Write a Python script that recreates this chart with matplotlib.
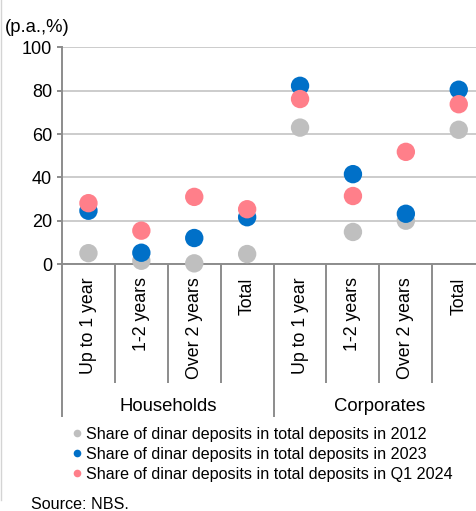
import matplotlib
matplotlib.use("Agg")
import matplotlib.pyplot as plt
from matplotlib.lines import Line2D
import numpy as np

plt.rcParams['font.family'] = ['Liberation Sans', 'DejaVu Sans']

# Maturity buckets per sector
categories = ["Up to 1 year", "1-2 years", "Over 2 years", "Total",
              "Up to 1 year", "1-2 years", "Over 2 years", "Total"]
groups = ["Households", "Corporates"]

share_2012 = [5.0, 1.5, 0.3, 4.6, 63.0, 14.8, 20.0, 62.0]
share_2023 = [24.6, 5.2, 12.0, 21.6, 82.3, 41.5, 23.2, 80.5]
share_q1_2024 = [28.1, 15.4, 31.0, 25.3, 76.2, 31.4, 51.8, 73.8]

series_labels = ["Share of dinar deposits in total deposits in 2012",
                 "Share of dinar deposits in total deposits in 2023",
                 "Share of dinar deposits in total deposits in Q1 2024"]
colors = ["#BFBFBF", "#0070C8", "#FF7F8A"]

yticks = [0, 20, 40, 60, 80, 100]

W, H, DPI = 477, 511, 100
fig = plt.figure(figsize=(W / DPI, H / DPI), dpi=DPI)

# axes in pixel geometry (axes runs slightly past the right edge)
x0, y_top, y_zero, cat_w = 62, 47.5, 264, 52.9
n = len(categories)
ax = fig.add_axes([x0 / W, (H - y_zero) / H, n * cat_w / W, (y_zero - y_top) / H])

grid_c = "#BEBEBE"
axis_c = "#8C8C8C"

xs = np.arange(n) + 0.5
for vals, c, lab in zip([share_2012, share_2023, share_q1_2024], colors, series_labels):
    ax.scatter(xs, vals, s=175, color=c, edgecolors="none", zorder=3, label=lab,
               clip_on=False)

ax.set_xlim(0, n)
ax.set_ylim(0, 100)
ax.set_yticks(yticks)
ax.set_yticklabels([str(v) for v in yticks], fontsize=13)
ax.yaxis.grid(True, color=grid_c, linewidth=1.1, zorder=0)
ax.set_axisbelow(True)
ax.tick_params(axis="y", length=3.6, width=1.4, color=axis_c, pad=3.5)

ax.set_xticks(xs)
ax.set_xticklabels(categories, rotation=90, fontsize=12.8, va="top", ha="center")
ax.tick_params(axis="x", length=0, pad=9.5)

for side in ["top", "right"]:
    ax.spines[side].set_visible(False)
ax.spines["left"].set_color(axis_c)
ax.spines["left"].set_linewidth(1.4)
ax.spines["bottom"].set_color(axis_c)
ax.spines["bottom"].set_linewidth(1.4)

# category dividers below the axis
ph = y_zero - y_top
short = -(383 - y_zero) / ph
long_ = -(417 - y_zero) / ph
trans = ax.get_xaxis_transform()
per_group = n // len(groups)
for b in range(n + 1):
    bottom = long_ if b % per_group == 0 else short
    ax.plot([b, b], [0, bottom], transform=trans, color=axis_c, lw=1.4,
            clip_on=False, solid_capstyle="butt")

# sector labels
for gi, g in enumerate(groups):
    ax.text(gi * per_group + per_group / 2, -(406 - y_zero) / ph, g, transform=trans,
            ha="center", va="center", fontsize=13.3)

# unit label
fig.text(5 / W, 1 - 27 / H, "(p.a.,%)", fontsize=13.3, ha="left", va="center")

# legend
handles = [Line2D([], [], marker="o", linestyle="none", markersize=5.5,
                  markerfacecolor=c, markeredgecolor="none") for c in colors]
fig.legend(handles, series_labels, loc="upper left",
           bbox_to_anchor=(72 / W, 1 - 427 / H), frameon=False, fontsize=11.6,
           handlelength=0.6, handletextpad=0.3, labelspacing=0.3,
           borderpad=0, borderaxespad=0)

# source note
fig.text(31 / W, 2 / H, "Source: NBS.", fontsize=11.6, ha="left", va="baseline")

# left frame edge
fig.add_artist(Line2D([1 / W, 1 / W], [1 - 0 / H, 1 - 500 / H], transform=fig.transFigure,
                      color="#D4D4D4", lw=1.0))

fig.savefig("out.png", dpi=DPI)
